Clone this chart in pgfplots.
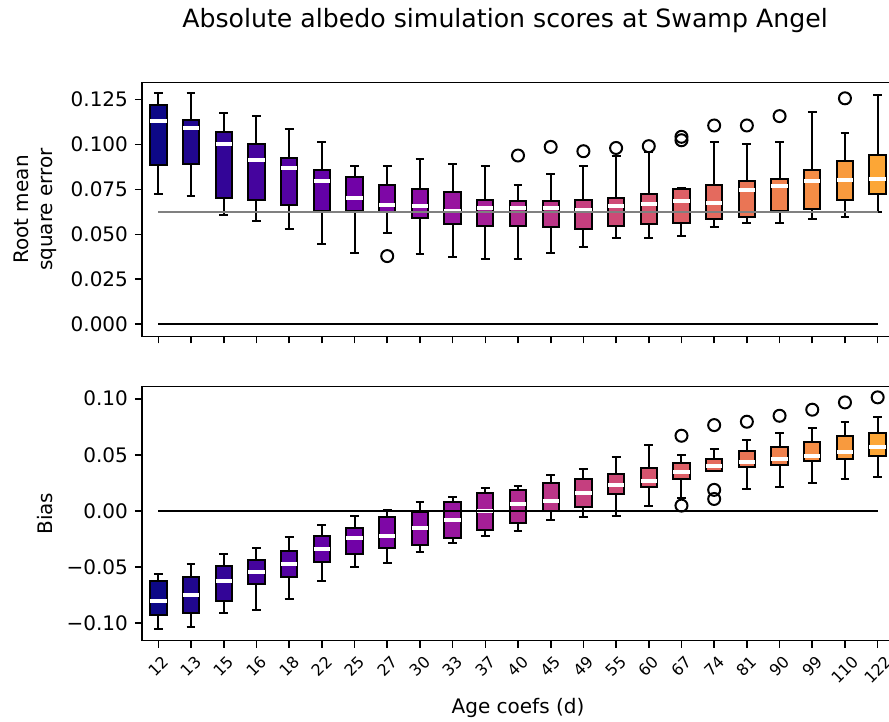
\documentclass[border=0pt]{standalone}
\usepackage{fontspec}
\setmainfont{DejaVu Sans}
\usepackage{graphicx}
\usepackage{pgfplots}
\pgfplotsset{compat=1.18}

% plasma colours, one per age coefficient
\definecolor{c0}{RGB}{13,8,135}
\definecolor{c1}{RGB}{32,7,143}
\definecolor{c2}{RGB}{51,5,151}
\definecolor{c3}{RGB}{69,4,158}
\definecolor{c4}{RGB}{84,2,162}
\definecolor{c5}{RGB}{99,1,166}
\definecolor{c6}{RGB}{113,2,167}
\definecolor{c7}{RGB}{126,7,166}
\definecolor{c8}{RGB}{140,12,164}
\definecolor{c9}{RGB}{152,21,159}
\definecolor{c10}{RGB}{165,31,151}
\definecolor{c11}{RGB}{177,42,144}
\definecolor{c12}{RGB}{187,53,135}
\definecolor{c13}{RGB}{197,63,127}
\definecolor{c14}{RGB}{206,74,118}
\definecolor{c15}{RGB}{214,84,110}
\definecolor{c16}{RGB}{221,95,102}
\definecolor{c17}{RGB}{228,106,94}
\definecolor{c18}{RGB}{234,117,85}
\definecolor{c19}{RGB}{240,129,77}
\definecolor{c20}{RGB}{245,141,69}
\definecolor{c21}{RGB}{248,154,62}
\definecolor{c22}{RGB}{252,166,54}

% one box: position, lower whisker, Q1, median, Q3, upper whisker
\newcommand{\bx}[6]{%
  \pgfmathsetmacro\boxL{#1-0.25}\pgfmathsetmacro\boxR{#1+0.25}%
  \pgfmathsetmacro\capL{#1-0.135}\pgfmathsetmacro\capR{#1+0.135}%
  \edef\doplot{%
    \noexpand\addplot[black, line width=1pt] coordinates {(#1,#2) (#1,#3)};
    \noexpand\addplot[black, line width=1pt] coordinates {(#1,#5) (#1,#6)};
    \noexpand\addplot[black, line width=1pt] coordinates {(\capL,#2) (\capR,#2)};
    \noexpand\addplot[black, line width=1pt] coordinates {(\capL,#6) (\capR,#6)};
    \noexpand\addplot[draw=black, fill=c#1, line width=1pt]
      coordinates {(\boxL,#3) (\boxR,#3) (\boxR,#5) (\boxL,#5)} -- cycle;
    \noexpand\addplot[white, line width=2pt] coordinates {(\boxL,#4) (\boxR,#4)};
  }\doplot}
\newcommand{\rb}[1]{\rotatebox{45}{#1}}

\pgfplotsset{
  agebox/.style={
    scale only axis, width=376pt, height=127pt,
    xmin=-0.5, xmax=22.5, xtick={0,...,22},
    tick align=outside, major tick length=3.5pt,
    xtick pos=left, ytick pos=left,
    axis line style={line width=0.8pt},
    every tick/.style={black, line width=0.8pt},
    ticklabel style={font=\fontsize{10}{12}\selectfont},
    label style={font=\fontsize{10}{12}\selectfont},
  }
}

\begin{document}
\begin{tikzpicture}

\begin{axis}[agebox, at={(71pt,192.75pt)}, anchor=south west,
  ymin=-0.0068, ymax=0.1344,
  ytick={0,0.025,0.05,0.075,0.1,0.125},
  yticklabels={0.000,0.025,0.050,0.075,0.100,0.125},
  xticklabels={},
  ylabel={Root mean\\square error}, ylabel style={align=center}]
\bx{0}{0.0725}{0.0883}{0.1129}{0.1217}{0.1283}
\bx{1}{0.0714}{0.0893}{0.1090}{0.1138}{0.1283}
\bx{2}{0.0606}{0.0701}{0.1004}{0.1071}{0.1174}
\bx{3}{0.0573}{0.0690}{0.0911}{0.1004}{0.1155}
\bx{4}{0.0532}{0.0664}{0.0869}{0.0926}{0.1088}
\bx{5}{0.0446}{0.0632}{0.0794}{0.0859}{0.1014}
\bx{6}{0.0394}{0.0632}{0.0701}{0.0819}{0.0878}
\bx{7}{0.0506}{0.0625}{0.0664}{0.0774}{0.0878}
\bx{8}{0.0389}{0.0590}{0.0657}{0.0752}{0.0919}
\bx{9}{0.0372}{0.0556}{0.0627}{0.0733}{0.0893}
\bx{10}{0.0363}{0.0547}{0.0649}{0.0692}{0.0878}
\bx{11}{0.0363}{0.0547}{0.0646}{0.0683}{0.0776}
\bx{12}{0.0398}{0.0540}{0.0646}{0.0683}{0.0835}
\bx{13}{0.0431}{0.0530}{0.0636}{0.0692}{0.0878}
\bx{14}{0.0482}{0.0549}{0.0658}{0.0701}{0.0938}
\bx{15}{0.0482}{0.0556}{0.0668}{0.0724}{0.0956}
\bx{16}{0.0491}{0.0565}{0.0686}{0.0752}{0.0755}
\bx{17}{0.0540}{0.0584}{0.0673}{0.0774}{0.1014}
\bx{18}{0.0565}{0.0599}{0.0744}{0.0794}{0.1004}
\bx{19}{0.0565}{0.0627}{0.0766}{0.0809}{0.1014}
\bx{20}{0.0584}{0.0640}{0.0794}{0.0859}{0.1181}
\bx{21}{0.0599}{0.0692}{0.0804}{0.0910}{0.1064}
\bx{22}{0.0624}{0.0724}{0.0809}{0.0943}{0.1274}
% outliers
\addplot[only marks, mark=o, mark size=3pt, black, line width=1pt] coordinates {
  (7,0.0379) (11,0.0938) (12,0.0986) (13,0.0962) (14,0.0980) (15,0.0990)
  (16,0.1042) (16,0.1023) (17,0.1105) (18,0.1105) (19,0.1157) (21,0.1256)};
% reference lines
\addplot[gray, line width=1pt] coordinates {(0,0.0625) (22,0.0625)};
\addplot[black, line width=1pt] coordinates {(0,0) (22,0)};
\end{axis}

\begin{axis}[agebox, at={(71pt,40.65pt)}, anchor=south west,
  ymin=-0.1155, ymax=0.1107,
  ytick={-0.1,-0.05,0,0.05,0.1},
  yticklabels={−0.10,−0.05,0.00,0.05,0.10},
  xticklabels={\rb{12},\rb{13},\rb{15},\rb{16},\rb{18},\rb{22},\rb{25},\rb{27},
    \rb{30},\rb{33},\rb{37},\rb{40},\rb{45},\rb{49},\rb{55},\rb{60},\rb{67},
    \rb{74},\rb{81},\rb{90},\rb{99},\rb{110},\rb{122}},
  xticklabel style={font=\fontsize{8}{9.6}\selectfont, anchor=north},
  xlabel={Age coefs (d)},
  ylabel={Bias}]
\bx{0}{-0.1054}{-0.0923}{-0.0801}{-0.0625}{-0.0557}
\bx{1}{-0.1033}{-0.0908}{-0.0744}{-0.0586}{-0.0473}
\bx{2}{-0.0908}{-0.0801}{-0.0625}{-0.0491}{-0.0381}
\bx{3}{-0.0878}{-0.0652}{-0.0542}{-0.0438}{-0.0327}
\bx{4}{-0.0786}{-0.0586}{-0.0473}{-0.0357}{-0.0229}
\bx{5}{-0.0625}{-0.0453}{-0.0339}{-0.0220}{-0.0125}
\bx{6}{-0.0503}{-0.0381}{-0.0244}{-0.0155}{-0.0045}
\bx{7}{-0.0461}{-0.0327}{-0.0220}{-0.0057}{0.0009}
\bx{8}{-0.0369}{-0.0301}{-0.0149}{-0.0009}{0.0077}
\bx{9}{-0.0289}{-0.0244}{-0.0080}{0.0077}{0.0128}
\bx{10}{-0.0220}{-0.0170}{0.0000}{0.0158}{0.0202}
\bx{11}{-0.0182}{-0.0110}{0.0066}{0.0188}{0.0226}
\bx{12}{-0.0083}{0.0000}{0.0092}{0.0253}{0.0319}
\bx{13}{-0.0054}{0.0036}{0.0158}{0.0283}{0.0375}
\bx{14}{-0.0042}{0.0155}{0.0229}{0.0333}{0.0482}
\bx{15}{0.0048}{0.0214}{0.0271}{0.0387}{0.0589}
\bx{16}{0.0113}{0.0283}{0.0346}{0.0426}{0.0497}
\bx{17}{0.0360}{0.0360}{0.0402}{0.0467}{0.0551}
\bx{18}{0.0199}{0.0396}{0.0440}{0.0536}{0.0628}
\bx{19}{0.0211}{0.0411}{0.0467}{0.0574}{0.0699}
\bx{20}{0.0253}{0.0443}{0.0491}{0.0616}{0.0735}
\bx{21}{0.0283}{0.0467}{0.0527}{0.0670}{0.0792}
\bx{22}{0.0306}{0.0494}{0.0574}{0.0699}{0.0833}
% outliers
\addplot[only marks, mark=o, mark size=3pt, black, line width=1pt] coordinates {
  (16,0.0670) (16,0.0048) (17,0.0765) (17,0.0188) (17,0.0107)
  (18,0.0795) (19,0.0848) (20,0.0902) (21,0.0967) (22,0.1012)};
% zero line
\addplot[black, line width=1pt] coordinates {(0,0) (22,0)};
\end{axis}

\node[font=\fontsize{12.6}{15}\selectfont] at (252.5pt,350.5pt)
  {Absolute albedo simulation scores at Swamp Angel};

\pgfresetboundingbox
\path[use as bounding box] (0,0) rectangle (444.5pt,361pt);
\end{tikzpicture}
\end{document}
